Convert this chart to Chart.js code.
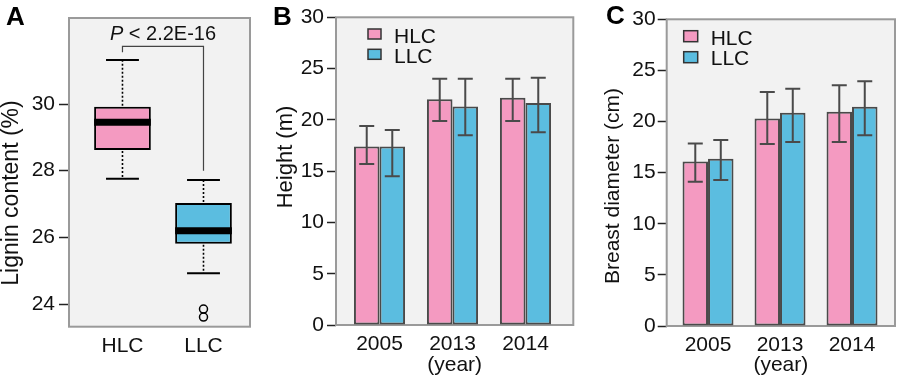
<!DOCTYPE html>
<html><head><meta charset="utf-8">
<script src="https://cdn.jsdelivr.net/npm/chart.js@4.4.1/dist/chart.umd.min.js"></script>
<style>
html,body{margin:0;padding:0;background:#fff;}
#wrap{position:relative;width:900px;height:385px;}
canvas{position:absolute;left:0;top:0;}
</style></head><body>
<div id="wrap">
<canvas id="cA" width="900" height="385"></canvas>
<canvas id="cB" width="900" height="385"></canvas>
<canvas id="cC" width="900" height="385"></canvas>
</div>
<script>
// ---------- data ----------
const groupsA = ['HLC', 'LLC'];
const ligninWhiskerLow  = [27.76, 24.92];
const ligninQ1          = [28.62, 25.81];
const ligninMedian      = [29.45, 26.20];
const ligninQ3          = [29.92, 27.03];
const ligninWhiskerHigh = [31.32, 27.72];
const ligninOutliersLLC = [23.85, 23.61];
const ligninTicks = [24, 26, 28, 30];
const pText = ' < 2.2E-16';

const years = ['2005', '2013', '2014'];
const heightHLC     = [17.4, 22.0, 22.15];
const heightHLCLow  = [15.7, 19.9, 19.9];
const heightHLCHigh = [19.4, 24.0, 24.0];
const heightLLC     = [17.4, 21.3, 21.65];
const heightLLCLow  = [14.5, 18.5, 18.8];
const heightLLCHigh = [19.0, 24.0, 24.1];

const diamHLC     = [16.1, 20.3, 20.95];
const diamHLCLow  = [14.1, 17.8, 18.0];
const diamHLCHigh = [17.85, 22.9, 23.55];
const diamLLC     = [16.37, 20.85, 21.45];
const diamLLCLow  = [14.28, 18.0, 18.65];
const diamLLCHigh = [18.2, 23.2, 23.95];

// ---------- styles ----------
const PINK = '#f49ac1', BLUE = '#5bbde0', BG = '#f2f2f2', FRAME = '#9a9a9a', DARK = '#4a4a4a';
const FONT = '"Liberation Sans", Arial, Helvetica, sans-serif';
Chart.defaults.font.family = FONT;
Chart.defaults.font.size = 20;
Chart.defaults.color = '#111';
Chart.defaults.animation = false;
Chart.defaults.devicePixelRatio = 1;

const framePlugin = {
  id: 'frame',
  beforeDatasetsDraw(chart) {
    const {ctx, chartArea: a} = chart;
    ctx.save();
    ctx.fillStyle = BG;
    ctx.fillRect(a.left, a.top, a.right - a.left, a.bottom - a.top);
    ctx.strokeStyle = FRAME; ctx.lineWidth = 2;
    ctx.strokeRect(a.left, a.top, a.right - a.left, a.bottom - a.top);
    ctx.restore();
  }
};

function textPlugin(letter, lx, ly, title, tx, ty, tsize) {
  return {
    id: 'texts',
    afterDraw(chart) {
      const ctx = chart.ctx;
      ctx.save();
      ctx.fillStyle = '#000';
      ctx.font = 'bold 26px ' + FONT;
      ctx.textAlign = 'left'; ctx.textBaseline = 'alphabetic';
      ctx.fillText(letter, lx, ly);
      ctx.translate(tx, ty);
      ctx.rotate(-Math.PI / 2);
      ctx.font = tsize + 'px ' + FONT;
      ctx.textAlign = 'center'; ctx.textBaseline = 'middle';
      ctx.fillStyle = '#111';
      ctx.fillText(title, 0, 0);
      ctx.restore();
    }
  };
}

const errorBarPlugin = {
  id: 'errbars',
  afterDatasetsDraw(chart) {
    const {ctx} = chart;
    const ys = chart.scales.y;
    ctx.save();
    ctx.strokeStyle = DARK; ctx.lineWidth = 2;
    chart.data.datasets.forEach((ds, di) => {
      const meta = chart.getDatasetMeta(di);
      meta.data.forEach((bar, i) => {
        const x = bar.x;
        const yl = ys.getPixelForValue(ds.errLow[i]);
        const yh = ys.getPixelForValue(ds.errHigh[i]);
        const cw = 7.5;
        ctx.beginPath();
        ctx.moveTo(x, yl); ctx.lineTo(x, yh);
        ctx.moveTo(x - cw, yl); ctx.lineTo(x + cw, yl);
        ctx.moveTo(x - cw, yh); ctx.lineTo(x + cw, yh);
        ctx.stroke();
      });
    });
    ctx.restore();
  }
};

function legendPlugin(dx, dy1, dy2, sw, sh, tdx, b1, b2) {
  return {
    id: 'boxlegend',
    afterDraw(chart) {
      const {ctx, chartArea: a} = chart;
      ctx.save();
      const rows = [[dy1, b1], [dy2, b2]];
      chart.data.datasets.forEach((ds, i) => {
        const x = a.left + dx, y = a.top + rows[i][0];
        ctx.fillStyle = ds.backgroundColor;
        ctx.fillRect(x, y, sw, sh);
        ctx.strokeStyle = '#333'; ctx.lineWidth = 1.5;
        ctx.strokeRect(x, y, sw, sh);
        ctx.fillStyle = '#111';
        ctx.font = '21px ' + FONT;
        ctx.textAlign = 'left'; ctx.textBaseline = 'alphabetic';
        ctx.fillText(ds.label, x + tdx, a.top + rows[i][1]);
      });
      ctx.restore();
    }
  };
}

// ---------- Panel A: boxplot ----------
const boxPlugin = {
  id: 'boxparts',
  afterDatasetsDraw(chart) {
    const {ctx} = chart;
    const xs = chart.scales.x, ys = chart.scales.y;
    const meta = chart.getDatasetMeta(0);
    ctx.save();
    groupsA.forEach((g, i) => {
      const bar = meta.data[i];
      const x = bar.x, w = bar.width;
      const yq1 = ys.getPixelForValue(ligninQ1[i]);
      const yq3 = ys.getPixelForValue(ligninQ3[i]);
      const ylo = ys.getPixelForValue(ligninWhiskerLow[i]);
      const yhi = ys.getPixelForValue(ligninWhiskerHigh[i]);
      const ymed = ys.getPixelForValue(ligninMedian[i]);
      ctx.strokeStyle = '#000'; ctx.lineWidth = 1.6; ctx.setLineDash([2, 2]);
      ctx.beginPath();
      ctx.moveTo(x, yq3 - 1); ctx.lineTo(x, yhi);
      ctx.moveTo(x, yq1 + 1); ctx.lineTo(x, ylo);
      ctx.stroke();
      ctx.setLineDash([]);
      ctx.lineWidth = 2;
      const cw = w * 0.29;
      ctx.beginPath();
      ctx.moveTo(x - cw, yhi); ctx.lineTo(x + cw, yhi);
      ctx.moveTo(x - cw, ylo); ctx.lineTo(x + cw, ylo);
      ctx.stroke();
      ctx.lineWidth = 7;
      ctx.beginPath();
      ctx.moveTo(x - w / 2, ymed); ctx.lineTo(x + w / 2, ymed);
      ctx.stroke();
    });
    const x0 = xs.getPixelForValue(0), x1 = xs.getPixelForValue(1);
    const yTop = ys.getPixelForValue(31.73);
    ctx.strokeStyle = '#444'; ctx.lineWidth = 1.2;
    ctx.beginPath();
    ctx.moveTo(x0, ys.getPixelForValue(31.55));
    ctx.lineTo(x0, yTop); ctx.lineTo(x1, yTop);
    ctx.lineTo(x1, ys.getPixelForValue(28.0));
    ctx.stroke();
    const cx = (x0 + x1) / 2, by = yTop - 6;
    ctx.font = 'italic 20px ' + FONT;
    const wP = ctx.measureText('P').width;
    ctx.font = '20px ' + FONT;
    const wR = ctx.measureText(pText).width;
    const sx = cx - (wP + wR) / 2;
    ctx.fillStyle = '#111'; ctx.textAlign = 'left'; ctx.textBaseline = 'alphabetic';
    ctx.font = 'italic 20px ' + FONT;
    ctx.fillText('P', sx, by);
    ctx.font = '20px ' + FONT;
    ctx.fillText(pText, sx + wP, by);
    ctx.restore();
  }
};

new Chart(document.getElementById('cA'), {
  type: 'bar',
  data: {
    datasets: [{
      label: 'Lignin',
      data: groupsA.map((g, i) => ({x: i, y: [ligninQ1[i], ligninQ3[i]]})),
      backgroundColor: [PINK, BLUE],
      borderColor: '#000', borderWidth: 2, borderSkipped: false,
      categoryPercentage: 1, barPercentage: 0.70
    }, {
      type: 'scatter',
      label: 'Outliers',
      data: ligninOutliersLLC.map(v => ({x: 1, y: v})),
      pointStyle: 'circle', pointRadius: 4, borderColor: '#000', borderWidth: 1.5,
      backgroundColor: 'rgba(0,0,0,0)'
    }]
  },
  options: {
    responsive: false,
    layout: {padding: {left: 0, right: 650, top: 18, bottom: 0}},
    plugins: {legend: {display: false}, tooltip: {enabled: false}},
    scales: {
      x: {
        type: 'linear', min: -0.66, max: 1.574, offset: false,
        grid: {display: false, drawTicks: false}, border: {display: false},
        afterBuildTicks: s => { s.ticks = groupsA.map((g, i) => ({value: i})); },
        ticks: {padding: 7, autoSkip: false, maxRotation: 0, font: {size: 21}, callback: v => groupsA[v] ?? ''},
        afterFit: s => { s.height = 385 - 326.7; }
      },
      y: {
        type: 'linear', min: 23.32, max: 32.58, beginAtZero: false,
        afterBuildTicks: s => { s.ticks = ligninTicks.map(v => ({value: v})); },
        grid: {drawOnChartArea: false, drawTicks: true, tickLength: 10, tickColor: '#222', tickWidth: 1.5},
        border: {display: false},
        ticks: {padding: 4, font: {size: 21}},
        afterFit: s => { s.width = 69; }
      }
    }
  },
  plugins: [framePlugin, boxPlugin, textPlugin('A', 6, 25, 'Lignin content (%)', 12, 193, 23)]
});

// ---------- Panels B & C: bars ----------
function barChart(id, hlc, hlcLo, hlcHi, llc, llcLo, llcHi, geo, extraPlugins) {
  return new Chart(document.getElementById(id), {
    type: 'bar',
    data: {
      datasets: [
        {label: 'HLC', data: hlc.map((v, i) => ({x: i, y: v})), errLow: hlcLo, errHigh: hlcHi,
         backgroundColor: PINK, borderColor: DARK, borderWidth: 2, borderSkipped: false,
         categoryPercentage: geo.cat, barPercentage: 1},
        {label: 'LLC', data: llc.map((v, i) => ({x: i, y: v})), errLow: llcLo, errHigh: llcHi,
         backgroundColor: BLUE, borderColor: DARK, borderWidth: 2, borderSkipped: false,
         categoryPercentage: geo.cat, barPercentage: 1}
      ]
    },
    options: {
      responsive: false,
      layout: {padding: {left: 0, right: 900 - geo.right, top: geo.top, bottom: 0}},
      plugins: {legend: {display: false}, tooltip: {enabled: false}},
      scales: {
        x: {
          type: 'linear', min: geo.xmin, max: geo.xmax, offset: false,
          grid: {display: false, drawTicks: false, offset: false}, border: {display: false},
          afterBuildTicks: s => { s.ticks = years.map((y, i) => ({value: i})); },
          ticks: {padding: 7, autoSkip: false, maxRotation: 0, font: {size: 21}, callback: v => years[v] ?? ''},
          title: {display: true, text: '(year)', font: {size: 21}, padding: {top: 0, bottom: 7}},
          afterFit: s => { s.height = 385 - geo.bottom; }
        },
        y: {
          type: 'linear', min: 0, max: 30, beginAtZero: true,
          ticks: {stepSize: 5, padding: geo.tpad, font: {size: 21}},
          grid: {drawOnChartArea: false, drawTicks: true, tickLength: 9, tickColor: '#222', tickWidth: 1.5},
          border: {display: false},
          afterFit: s => { s.width = geo.left; }
        }
      }
    },
    plugins: [framePlugin, errorBarPlugin].concat(extraPlugins)
  });
}

barChart('cB', heightHLC, heightHLCLow, heightHLCHigh, heightLLC, heightLLCLow, heightLLCHigh,
  {left: 336, right: 573.3, top: 17.3, bottom: 325, xmin: -0.596, xmax: 2.655, cat: 0.70, tpad: 3},
  [legendPlugin(32, 11.7, 32, 13, 10, 26, 26, 46), textPlugin('B', 273, 25, 'Height (m)', 286, 157, 22)]);

barChart('cC', diamHLC, diamHLCLow, diamHLCHigh, diamLLC, diamLLCLow, diamLLCHigh,
  {left: 666.7, right: 895, top: 19.3, bottom: 326, xmin: -0.574, xmax: 2.597, cat: 0.708, tpad: 2},
  [legendPlugin(17, 11.4, 32.4, 14, 11, 27, 25.7, 45.7), textPlugin('C', 606, 24, 'Breast diameter (cm)', 613, 186, 21)]);
</script>
</body></html>
